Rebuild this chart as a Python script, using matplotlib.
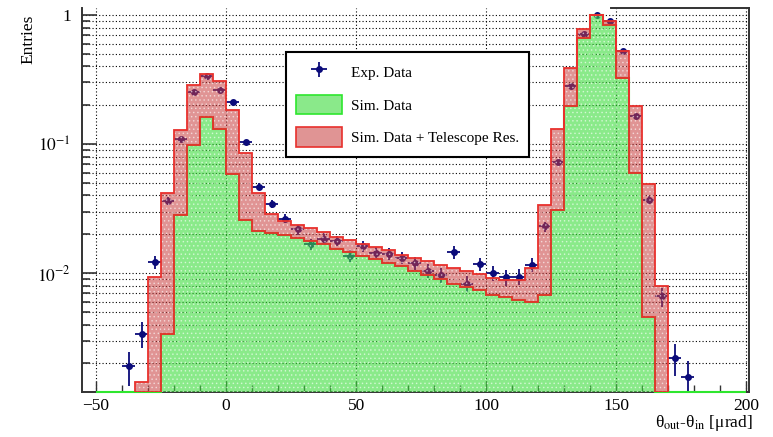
import numpy as np
import matplotlib
matplotlib.use("Agg")
import matplotlib.pyplot as plt
from matplotlib.patches import Patch
from matplotlib.ticker import MultipleLocator, LogLocator, NullFormatter, FixedLocator

plt.rcParams["font.family"] = "Liberation Serif"
plt.rcParams["mathtext.fontset"] = "stix"
plt.rcParams["hatch.linewidth"] = 0.6

# ---- data (normalised entries, 5 urad bins from -50 to 200) ----
bin_edges = np.arange(-50, 201, 5)

sim_data = [0, 0, 0, 0, 0, 0.0034, 0.0282, 0.099, 0.161, 0.130,
            0.059, 0.0258, 0.0213, 0.0205, 0.0198, 0.0188, 0.0178, 0.0168, 0.0155, 0.0145,
            0.0136, 0.0128, 0.0120, 0.0113, 0.0104, 0.0097, 0.0090, 0.0083, 0.0078, 0.0074,
            0.0068, 0.0065, 0.0062, 0.0060, 0.0068, 0.031, 0.197, 0.659, 1.0, 0.837,
            0.323, 0.0593, 0.0046, 0, 0, 0, 0, 0, 0, 0]

sim_telescope = [0, 0, 0, 0.00144, 0.0094, 0.042, 0.128, 0.287, 0.349, 0.31,
                 0.184, 0.085, 0.0415, 0.0287, 0.0255, 0.0236, 0.0222, 0.0208, 0.0192, 0.0180,
                 0.0168, 0.0158, 0.0150, 0.0139, 0.0132, 0.0124, 0.0115, 0.0110, 0.0103, 0.0098,
                 0.0092, 0.0089, 0.0088, 0.0109, 0.0337, 0.132, 0.386, 0.775, 1.0, 0.904,
                 0.526, 0.197, 0.049, 0.0079, 0, 0, 0, 0, 0, 0]

exp_x = [-37.5, -32.5, -27.5, -22.5, -17.5, -12.5, -7.5, -2.5, 2.5, 7.5,
         12.5, 17.5, 22.5, 27.5, 32.5, 37.5, 42.5, 47.5, 52.5, 57.5,
         62.5, 67.5, 72.5, 77.5, 82.5, 87.5, 92.5, 97.5, 102.5, 107.5,
         112.5, 117.5, 122.5, 127.5, 132.5, 137.5, 142.5, 147.5, 152.5, 157.5,
         162.5, 167.5, 172.5, 177.5]
exp_y = [0.0019, 0.0034, 0.0121, 0.0361, 0.109, 0.252, 0.339, 0.262, 0.213, 0.104,
         0.0467, 0.0343, 0.0265, 0.0218, 0.0168, 0.0185, 0.0178, 0.0136, 0.0162, 0.0144,
         0.0141, 0.0132, 0.0119, 0.0104, 0.0097, 0.0145, 0.0083, 0.0117, 0.0100, 0.0093,
         0.0094, 0.0116, 0.0230, 0.072, 0.282, 0.708, 1.0, 0.904, 0.526, 0.166,
         0.0368, 0.0066, 0.0022, 0.00157]
exp_err = [0.00057, 0.00076, 0.0014, 0.0025, 0.0043, 0.0065, 0.0076, 0.0067, 0.0060, 0.0042,
           0.0028, 0.0024, 0.0021, 0.0019, 0.0017, 0.0018, 0.0017, 0.0015, 0.0017, 0.0016,
           0.0015, 0.0015, 0.0014, 0.0013, 0.0013, 0.0016, 0.0012, 0.0014, 0.0013, 0.0013,
           0.0013, 0.0014, 0.0020, 0.0035, 0.0069, 0.011, 0.013, 0.012, 0.0094, 0.0053,
           0.0025, 0.0011, 0.0006, 0.0005]

y_lo, y_hi = 1.2e-3, 1.133
x_lo, x_hi = -55.4, 201

green_face = "#3cdc3c"
green_edge = "#2ee62e"
red_face = "#c83c3c"
red_edge = "#e8302c"
point_col = "#0b0b7a"

# ===============================
# figure
# ===============================
fig = plt.figure(figsize=(7.73, 4.37), dpi=100)
ax = fig.add_axes([0.1061, 0.103, 0.8629, 0.8787])
ax.set_yscale("log")
ax.set_xlim(x_lo, x_hi)
ax.set_ylim(y_lo, y_hi)

# experimental points (drawn below the semi transparent histograms)
ax.errorbar(exp_x, exp_y, yerr=exp_err, xerr=2.5, fmt="o", ms=4, color=point_col,
            ecolor=point_col, elinewidth=1.3, capsize=0, zorder=2)

# simulated data
sim = np.array(sim_data)
sim_floor = np.where(sim > 0, sim, y_lo)
ax.stairs(sim_floor, bin_edges, baseline=y_lo, fill=True, facecolor=green_face,
          alpha=0.6, linewidth=0, zorder=3)
ax.stairs(sim_floor, bin_edges, baseline=y_lo, fill=True, facecolor="none",
          edgecolor="white", hatch="....", linewidth=0, alpha=0.5, zorder=3)
ax.stairs(sim_floor, bin_edges, baseline=y_lo, fill=True, facecolor="none",
          edgecolor=green_edge, linewidth=1.5, zorder=4, clip_on=False)

# simulated data + telescope resolution (only where filled)
tel = np.array(sim_telescope)
idx = np.nonzero(tel)[0]
i0, i1 = idx[0], idx[-1] + 1
tel_edges = bin_edges[i0:i1 + 1]
ax.stairs(tel[i0:i1], tel_edges, baseline=sim_floor[i0:i1], fill=True,
          facecolor=red_face, alpha=0.55, linewidth=0, zorder=5)
ax.stairs(tel[i0:i1], tel_edges, baseline=sim_floor[i0:i1], fill=True,
          facecolor="none", edgecolor="white", hatch="....", linewidth=0, alpha=0.5, zorder=5)
ax.stairs(tel[i0:i1], tel_edges, baseline=sim_floor[i0:i1], fill=True,
          facecolor="none", edgecolor=red_edge, linewidth=1.3, zorder=6)

# ===============================
# axes styling
# ===============================
ax.yaxis.set_major_locator(FixedLocator([1e-2, 1e-1, 1]))
ax.set_yticklabels([r"$10^{-2}$", r"$10^{-1}$", "1"])
ax.yaxis.set_minor_locator(LogLocator(base=10, subs=np.arange(2, 10)))
ax.yaxis.set_minor_formatter(NullFormatter())
ax.xaxis.set_major_locator(MultipleLocator(50))
ax.xaxis.set_minor_locator(MultipleLocator(10))

ax.tick_params(axis="both", which="both", direction="in", top=False, right=False,
               labelsize=12.5, color="#333333")
ax.tick_params(axis="y", which="major", length=11, width=1.2, pad=8)
ax.tick_params(axis="y", which="minor", length=6, width=1.2)
ax.tick_params(axis="x", which="major", length=8, width=1.0, pad=4)
ax.tick_params(axis="x", which="minor", length=5, width=1.0)

ax.grid(which="both", axis="y", linestyle=(0, (1, 2)), color="black", linewidth=0.8, zorder=1)
ax.grid(which="major", axis="x", linestyle=(0, (1, 2)), color="black", linewidth=0.8, zorder=1)
ax.set_axisbelow(True)

for side in ["left", "bottom", "right", "top"]:
    ax.spines[side].set_linewidth(1.4)
    ax.spines[side].set_color("#333333")
ax.spines["top"].set_bounds(148, x_hi)

ax.set_xlabel(r"θ$_{\rm out}$-θ$_{\rm in}$ [μrad]", fontsize=12.5, loc="right")
ax.xaxis.set_label_coords(1.005, -0.055)
fig.text(28 / 773, 1 - 15 / 437, "Entries", rotation=90, ha="center", va="top", fontsize=12.5)

# legend
handles = [
    ax.errorbar([], [], yerr=[], xerr=[], fmt="o", ms=4, color=point_col, elinewidth=1.3),
    Patch(facecolor=(0.24, 0.86, 0.24, 0.6), edgecolor=green_edge, linewidth=1.2),
    Patch(facecolor=(0.78, 0.24, 0.24, 0.55), edgecolor=red_edge, linewidth=1.2),
]
labels = ["Exp. Data", "Sim. Data", "Sim. Data + Telescope Res."]
leg = ax.legend(handles, labels, loc="upper left", bbox_to_anchor=(0.306, 0.885),
                fontsize=11, frameon=True, fancybox=False, framealpha=1,
                edgecolor="black", handlelength=3.0, handleheight=1.6,
                labelspacing=0.85, borderpad=0.65, handletextpad=0.6, borderaxespad=0)
leg.get_frame().set_linewidth(1.5)
leg.set_zorder(10)

fig.savefig("out.png", dpi=100)
